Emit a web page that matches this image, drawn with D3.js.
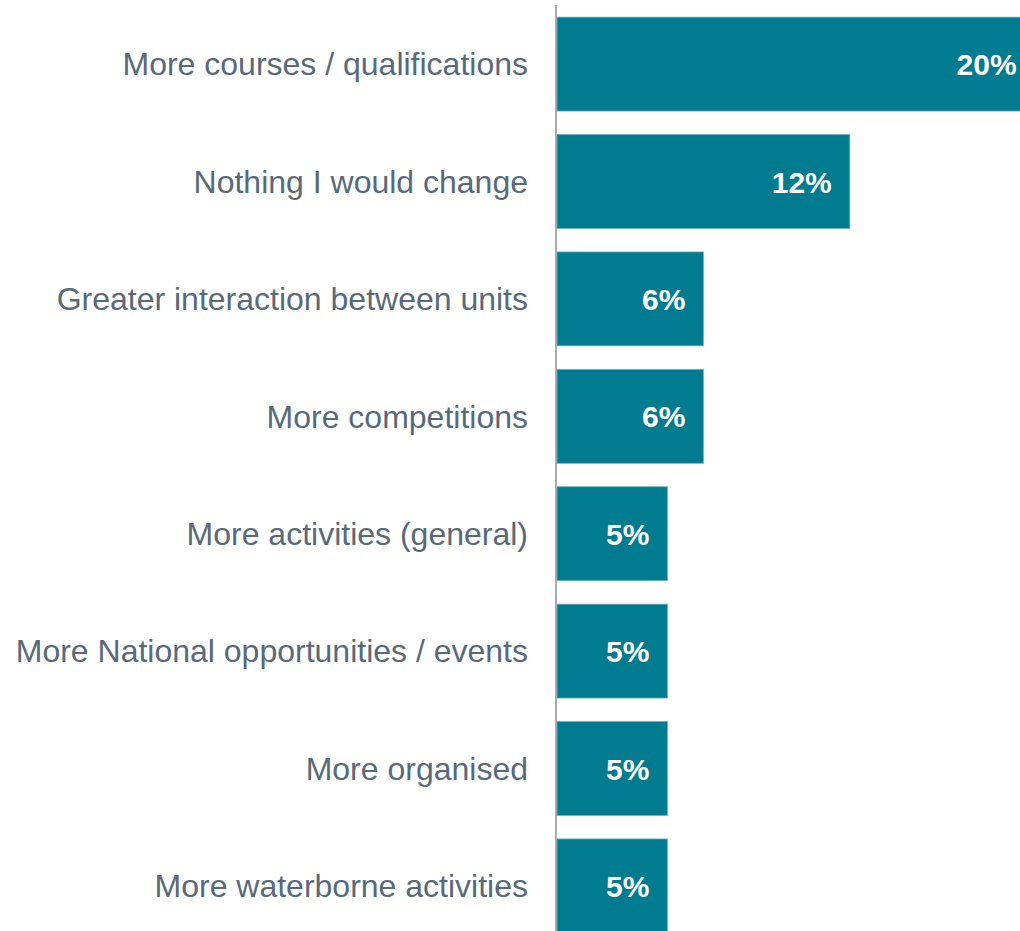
<!DOCTYPE html>
<html>
<head>
<meta charset="utf-8">
<script src="https://cdn.jsdelivr.net/npm/d3@7"></script>
<style>
  html, body { margin: 0; padding: 0; background: #ffffff; }
  svg { display: block; }
</style>
</head>
<body>
<div id="chart"></div>
<script>
const categories = [
  "More courses / qualifications",
  "Nothing I would change",
  "Greater interaction between units",
  "More competitions",
  "More activities (general)",
  "More National opportunities / events",
  "More organised",
  "More waterborne activities"
];
const values = [19.9, 12.2, 6.1, 6.1, 4.6, 4.6, 4.6, 4.6];

const W = 1020, H = 931;
const svg = d3.select("#chart").append("svg").attr("width", W).attr("height", H);

const x = d3.scaleLinear().domain([0, 20]).range([557, 1037]);
const y = d3.scaleBand().domain(categories).range([5.4, 944.6]).paddingInner(0.2).paddingOuter(0.1);

const data = categories.map((c, i) => ({ c, v: values[i] }));

svg.selectAll("rect.bar").data(data).join("rect")
  .attr("class", "bar")
  .attr("x", x(0))
  .attr("y", d => y(d.c))
  .attr("width", d => x(d.v) - x(0))
  .attr("height", y.bandwidth())
  .attr("fill", "#007B8F")
  .attr("stroke", "#6FB0BE")
  .attr("stroke-width", 0.8);

svg.selectAll("text.val").data(data).join("text")
  .attr("class", "val")
  .attr("x", d => x(d.v) - 18)
  .attr("y", d => y(d.c) + y.bandwidth() / 2)
  .attr("dy", "0.37em")
  .attr("text-anchor", "end")
  .attr("font-family", "'Liberation Sans', Arial, sans-serif")
  .attr("font-weight", "bold")
  .attr("font-size", 30)
  .attr("fill", "#ffffff")
  .text(d => Math.round(d.v) + "%");

const yAxis = d3.axisLeft(y).tickSize(0).tickPadding(28);
const ga = svg.append("g").attr("transform", `translate(${556},0)`).call(yAxis);
ga.select(".domain").remove();
ga.selectAll("text")
  .attr("font-family", "'Liberation Sans', Arial, sans-serif")
  .attr("font-size", 32)
  .attr("fill", "#586A79")
  .attr("dy", "0.35em");

svg.append("line")
  .attr("x1", 556).attr("x2", 556)
  .attr("y1", 5).attr("y2", H)
  .attr("stroke", "#8C929A")
  .attr("stroke-width", 1.5);
</script>
</body>
</html>
